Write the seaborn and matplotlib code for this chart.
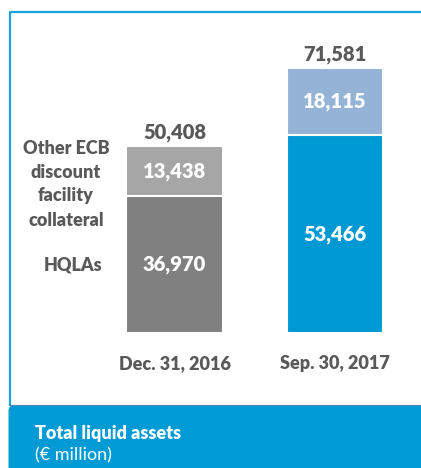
import matplotlib
matplotlib.use('Agg')
import matplotlib.pyplot as plt
from matplotlib.patches import FancyBboxPatch
import pandas as pd
import seaborn as sns

# values in EUR million
dates = ['Dec. 31, 2016', 'Sep. 30, 2017']
hqla = [36970, 53466]
other_ecb = [13438, 18115]
totals = [50408, 71581]

hqla_colors = ['#808080', '#0099d4']
other_colors = ['#a6a6a6', '#95b3d7']
text_grey = '#595959'
frame_blue = '#1ba1dc'
footer_blue = '#009ad5'
bold = 'heavy'

sns.set_style('white')
plt.rcParams['font.family'] = ['Lato', 'DejaVu Sans']

df = pd.DataFrame({'date': dates, 'hqla': hqla, 'other': other_ecb, 'total': totals})

fig = plt.figure(figsize=(4.21, 4.68), dpi=100)

# overlay in pixel coords for frame, footer and free text
bg = fig.add_axes([0, 0, 1, 1])
bg.set_xlim(0, 421)
bg.set_ylim(468, 0)
bg.axis('off')
bg.plot([10, 10, 421], [405, 12, 12], color=frame_blue, lw=1.6, solid_capstyle='butt')
bg.add_patch(FancyBboxPatch((8.5, 405), 430, 80, boxstyle='round,pad=0,rounding_size=6',
                            fc=footer_blue, ec='none'))
bg.plot([9, 421], [405, 405], color='#4f81bd', lw=0.8)
bg.text(35, 433, 'Total liquid assets', color='white', fontsize=13, fontweight=bold,
        va='center', ha='left')
bg.text(35, 455, '(€ million)', color='white', fontsize=13, va='center', ha='left')
bg.text(66, 184, 'Other ECB\ndiscount\nfacility\ncollateral', color=text_grey, fontsize=13,
        fontweight=bold, ha='center', va='center', linespacing=1.5)
bg.text(73, 265, 'HQLAs', color=text_grey, fontsize=13, fontweight=bold,
        ha='center', va='center')

ax = fig.add_axes([94.25 / 421, 135 / 468, 321 / 421, 296 / 468])
ax.patch.set_alpha(0)
sns.barplot(data=df, x='date', y='total', hue='date', palette=other_colors, width=0.6,
            saturation=1, edgecolor='white', linewidth=1.5, legend=False, ax=ax)
sns.barplot(data=df, x='date', y='hqla', hue='date', palette=hqla_colors, width=0.6,
            saturation=1, edgecolor='white', linewidth=1.5, legend=False, ax=ax)
ax.set_xlim(-0.5, 1.5)
ax.set_ylim(0, 80000)
ax.set_xlabel('')
ax.set_ylabel('')
ax.set_yticks([])
ax.tick_params(axis='x', length=0, pad=16, labelsize=13, labelcolor=text_grey)
for lbl in ax.get_xticklabels():
    lbl.set_fontweight(bold)
sns.despine(ax=ax, left=True, bottom=True)

for i in range(len(dates)):
    ax.text(i, hqla[i] / 2, f'{hqla[i]:,}', color='white', fontsize=14.5, fontweight=bold,
            ha='center', va='center')
    ax.text(i, hqla[i] + other_ecb[i] / 2, f'{other_ecb[i]:,}', color='white', fontsize=14.5,
            fontweight=bold, ha='center', va='center')
    ax.text(i, totals[i] + 3700, f'{totals[i]:,}', color=text_grey, fontsize=14.5,
            fontweight=bold, ha='center', va='center')

fig.savefig('out.png', dpi=100)
